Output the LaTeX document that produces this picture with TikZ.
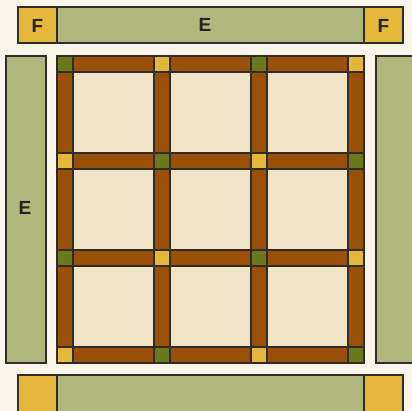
\documentclass[tikz,border=0pt]{standalone}
\usepackage{fontspec}
\setmainfont{Liberation Sans}
\definecolor{bg}{HTML}{FBF4E9}
\definecolor{sage}{HTML}{B0B77E}
\definecolor{gold}{HTML}{E5B73B}
\definecolor{brown}{HTML}{9A5007}
\definecolor{olive}{HTML}{6A7A1A}
\definecolor{cream}{HTML}{F0E3C6}
\definecolor{edge}{HTML}{2E2E26}
\definecolor{ink}{HTML}{262420}
\begin{document}
\begin{tikzpicture}[x=1pt,y=-1pt,
  piece/.style={draw=edge,line width=1.1pt},
  lbl/.style={font=\bfseries\fontsize{19}{20}\selectfont,text=ink},
  blk/.style={piece,fill=cream},
  sash/.style={piece,fill=brown},
  cg/.style={piece,fill=olive},
  cy/.style={piece,fill=gold}]
\path[fill=bg] (0,0) rectangle (412,411);
\useasboundingbox (0,0) rectangle (412,411);
% outer border
\draw[piece,fill=gold] (18,7) rectangle (57,43);
\draw[piece,fill=sage] (57,7) rectangle (364,43);
\draw[piece,fill=gold] (364,7) rectangle (403,43);
\draw[piece,fill=sage] (6,56) rectangle (46,363);
\draw[piece,fill=sage] (376,56) rectangle (416,363);
\draw[piece,fill=gold] (18,375) rectangle (57,415);
\draw[piece,fill=sage] (57,375) rectangle (364,415);
\draw[piece,fill=gold] (364,375) rectangle (403,415);
\node[lbl] (f1) at (37.5,25.5) {F};
\node[lbl] (e1) at (205,24.5) {E};
\node[lbl] (f2) at (383.5,25.5) {F};
\node[lbl] (e2) at (25,208) {E};
% blocks
\foreach \i in {0,1,2}{
  \foreach \j in {0,1,2}{
    \draw[blk] ({73+97*\i},{72+97*\j}) rectangle ({154+97*\i},{153+97*\j});
  }
}
% sashing horizontal
\foreach \j in {0,1,2,3}{
  \foreach \i in {0,1,2}{
    \draw[sash] ({73+97*\i},{56+97*\j}) rectangle ({154+97*\i},{72+97*\j});
  }
}
% sashing vertical
\foreach \i in {0,1,2,3}{
  \foreach \j in {0,1,2}{
    \draw[sash] ({57+97*\i},{72+97*\j}) rectangle ({73+97*\i},{153+97*\j});
  }
}
% cornerstones
\foreach \i in {0,1,2,3}{
  \foreach \j in {0,1,2,3}{
    \pgfmathtruncatemacro{\p}{mod(\i+\j,2)}
    \ifnum\p=0
      \draw[cg] ({57+97*\i},{56+97*\j}) rectangle ({73+97*\i},{72+97*\j});
    \else
      \draw[cy] ({57+97*\i},{56+97*\j}) rectangle ({73+97*\i},{72+97*\j});
    \fi
  }
}
\end{tikzpicture}
\end{document}
